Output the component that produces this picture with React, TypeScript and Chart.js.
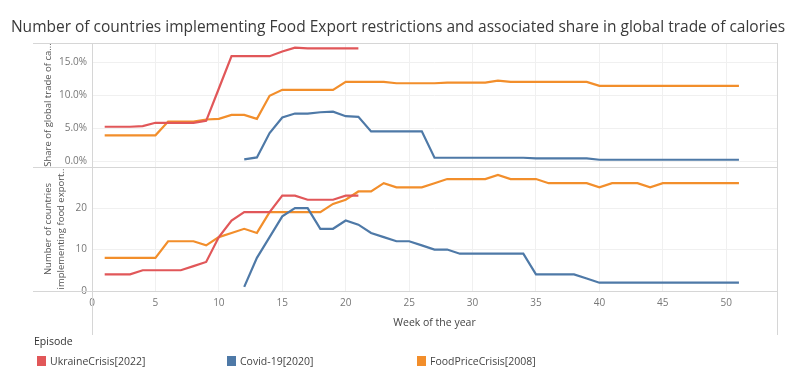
import React, { useEffect, useRef } from "react";
import { Chart, registerables } from "chart.js";

Chart.register(...registerables);

// ---- Data ----
const weeks = [
  1, 2, 3, 4, 5, 6, 7, 8, 9, 10, 11, 12, 13, 14, 15, 16, 17, 18, 19, 20, 21, 22, 23, 24, 25, 26,
  27, 28, 29, 30, 31, 32, 33, 34, 35, 36, 37, 38, 39, 40, 41, 42, 43, 44, 45, 46, 47, 48, 49, 50, 51,
];
const xTicks = [0, 5, 10, 15, 20, 25, 30, 35, 40, 45, 50];

const episodes = ["UkraineCrisis[2022]", "Covid-19[2020]", "FoodPriceCrisis[2008]"];
const colors = ["#E15759", "#4E79A7", "#F28E2B"];

// Ukraine: weeks 1-21
const ukraineWeeks = weeks.slice(0, 21);
const ukraineShare = [5.2, 5.2, 5.2, 5.3, 5.8, 5.8, 5.8, 5.8, 6.1, 11.0, 15.9, 15.9, 15.9, 15.9, 16.6, 17.2, 17.1, 17.1, 17.1, 17.1, 17.1];
const ukraineCount = [4, 4, 4, 5, 5, 5, 5, 6, 7, 13, 17, 19, 19, 19, 23, 23, 22, 22, 22, 23, 23];

// Covid: weeks 12-51
const covidWeeks = weeks.slice(11);
const covidShare = [
  0.25, 0.55, 4.25, 6.6, 7.2, 7.2, 7.4, 7.5, 6.8, 6.7, 4.5, 4.5, 4.5, 4.5, 4.5, 0.5, 0.5, 0.5, 0.5, 0.5,
  0.5, 0.5, 0.5, 0.4, 0.4, 0.4, 0.4, 0.4, 0.2, 0.2, 0.2, 0.2, 0.2, 0.2, 0.2, 0.2, 0.2, 0.2, 0.2, 0.2,
];
const covidCount = [
  1, 8, 13, 18, 20, 20, 15, 15, 17, 16, 14, 13, 12, 12, 11, 10, 10, 9, 9, 9,
  9, 9, 9, 4, 4, 4, 4, 3, 2, 2, 2, 2, 2, 2, 2, 2, 2, 2, 2, 2,
];

// Food price crisis: weeks 1-51
const foodWeeks = weeks;
const foodShare = [
  3.9, 3.9, 3.9, 3.9, 3.9, 6.0, 6.0, 6.0, 6.3, 6.4, 7.0, 7.0, 6.4, 9.9, 10.8, 10.8, 10.8, 10.8, 10.8, 12.0,
  12.0, 12.0, 12.0, 11.8, 11.8, 11.8, 11.8, 11.9, 11.9, 11.9, 11.9, 12.2, 12.0, 12.0, 12.0, 12.0, 12.0, 12.0, 12.0, 11.4,
  11.4, 11.4, 11.4, 11.4, 11.4, 11.4, 11.4, 11.4, 11.4, 11.4, 11.4,
];
const foodCount = [
  8, 8, 8, 8, 8, 12, 12, 12, 11, 13, 14, 15, 14, 19, 19, 19, 19, 19, 21, 22,
  24, 24, 26, 25, 25, 25, 26, 27, 27, 27, 27, 28, 27, 27, 27, 26, 26, 26, 26, 25,
  26, 26, 26, 25, 26, 26, 26, 26, 26, 26, 26,
];

const shareTicks = [0, 5, 10, 15];
const countTicks = [0, 10, 20];

const FONT = "'Open Sans', 'DejaVu Sans', sans-serif";

const pts = (xs: number[], ys: number[]) => xs.map((x, i) => ({ x, y: ys[i] }));

const framePlugin = {
  id: "frame",
  beforeDatasetsDraw(chart: any) {
    const { ctx, chartArea, scales } = chart;
    const { left, right, top, bottom } = chartArea;
    const mid = scales.yShare.bottom;
    const axisBottom = scales.x.bottom;
    const ext = 33;
    ctx.save();
    ctx.strokeStyle = "#d6d6d6";
    ctx.lineWidth = 1;
    ctx.beginPath();
    const h = (y: number) => {
      const yy = Math.round(y) + 0.5;
      ctx.moveTo(ext, yy);
      ctx.lineTo(right, yy);
    };
    h(top);
    h(mid);
    h(bottom);
    const v = (x: number) => {
      const xx = Math.round(x) + 0.5;
      ctx.moveTo(xx, top);
      ctx.lineTo(xx, axisBottom);
    };
    v(left);
    v(right);
    ctx.stroke();
    ctx.restore();
  },
};

export default function App() {
  const ref = useRef<HTMLCanvasElement | null>(null);

  useEffect(() => {
    if (!ref.current) return;
    const mk = (label: string, color: string, data: any, axis: string) => ({
      label,
      data,
      yAxisID: axis,
      borderColor: color,
      backgroundColor: color,
      borderWidth: 2.2,
      pointRadius: 0,
      tension: 0,
      fill: false,
    });
    const chart = new Chart(ref.current, {
      type: "line",
      data: {
        datasets: [
          mk(episodes[0], colors[0], pts(ukraineWeeks, ukraineShare), "yShare"),
          mk(episodes[1], colors[1], pts(covidWeeks, covidShare), "yShare"),
          mk(episodes[2], colors[2], pts(foodWeeks, foodShare), "yShare"),
          mk(episodes[0], colors[0], pts(ukraineWeeks, ukraineCount), "yCount"),
          mk(episodes[1], colors[1], pts(covidWeeks, covidCount), "yCount"),
          mk(episodes[2], colors[2], pts(foodWeeks, foodCount), "yCount"),
        ],
      },
      options: {
        animation: false,
        responsive: false,
        devicePixelRatio: 1,
        layout: { padding: { top: 43, right: 19, bottom: 45, left: 0 } },
        plugins: {
          legend: { display: false },
          tooltip: { enabled: false },
        },
        scales: {
          x: {
            type: "linear",
            min: 0,
            max: 54,
            afterBuildTicks: (s: any) => {
              s.ticks = xTicks.map((value) => ({ value }));
            },
            ticks: { font: { family: FONT, size: 10 }, color: "#777", padding: 6, maxRotation: 0 },
            grid: { color: "#f0f0f0", drawTicks: false },
            border: { display: false },
            title: {
              display: true,
              text: "Week of the year",
              font: { family: FONT, size: 10.5 },
              color: "#444",
              padding: { top: 0, bottom: 6 },
            },
            afterFit: (s: any) => {
              s.height = 44;
            },
          },
          yCount: {
            type: "linear",
            position: "left",
            stack: "panels",
            stackWeight: 1,
            min: 0,
            max: 29.9,
            afterBuildTicks: (s: any) => {
              s.ticks = countTicks.map((value) => ({ value }));
            },
            ticks: { font: { family: FONT, size: 10 }, color: "#777", padding: 5 },
            grid: { color: "#f0f0f0", drawTicks: false },
            border: { display: false },
            title: {
              display: true,
              text: ["Number of countries", "implementing food export.."],
              font: { family: FONT, size: 9.5, lineHeight: 1.45 },
              color: "#555",
              padding: { top: 41, bottom: 0 },
            },
            afterFit: (s: any) => {
              s.width = 92;
            },
          },
          yShare: {
            type: "linear",
            position: "left",
            stack: "panels",
            stackWeight: 1,
            min: -0.9,
            max: 17.9,
            afterBuildTicks: (s: any) => {
              s.ticks = shareTicks.map((value) => ({ value }));
            },
            ticks: {
              font: { family: FONT, size: 10 },
              color: "#777",
              padding: 5,
              callback: (v: any) => Number(v).toFixed(1) + "%",
            },
            grid: { color: "#f0f0f0", drawTicks: false },
            border: { display: false },
            title: {
              display: true,
              text: "Share of global trade of ca...",
              font: { family: FONT, size: 9.5, lineHeight: 1.45 },
              color: "#555",
              padding: { top: 41, bottom: 0 },
            },
            afterFit: (s: any) => {
              s.width = 92;
            },
          },
        },
      },
      plugins: [framePlugin],
    } as any);
    return () => chart.destroy();
  }, []);

  const legendX = [37, 227, 417];

  return (
    <div
      style={{
        position: "absolute",
        left: 0,
        top: 0,
        width: 796,
        height: 380,
        background: "#fff",
        fontFamily: FONT,
        overflow: "hidden",
      }}
    >
      <canvas ref={ref} width={796} height={380} style={{ position: "absolute", left: 0, top: 0 }} />
      <div
        style={{
          position: "absolute",
          left: 0,
          top: 16,
          width: 796,
          textAlign: "center",
          fontSize: 15.5,
          color: "#3a3a3a",
          whiteSpace: "nowrap",
          lineHeight: "20px",
        }}
      >
        Number of countries implementing Food Export restrictions and associated share in global trade of calories
      </div>
      <div style={{ position: "absolute", left: 34, top: 334, fontSize: 10.5, color: "#333", lineHeight: "14px" }}>
        Episode
      </div>
      {episodes.map((e, i) => (
        <div
          key={e}
          style={{
            position: "absolute",
            left: legendX[i],
            top: 354,
            display: "flex",
            alignItems: "center",
            fontSize: 10.5,
            color: "#444",
            lineHeight: "14px",
            whiteSpace: "nowrap",
          }}
        >
          <span style={{ display: "inline-block", width: 9, height: 10, background: colors[i], marginRight: 4 }} />
          {e}
        </div>
      ))}
    </div>
  );
}
